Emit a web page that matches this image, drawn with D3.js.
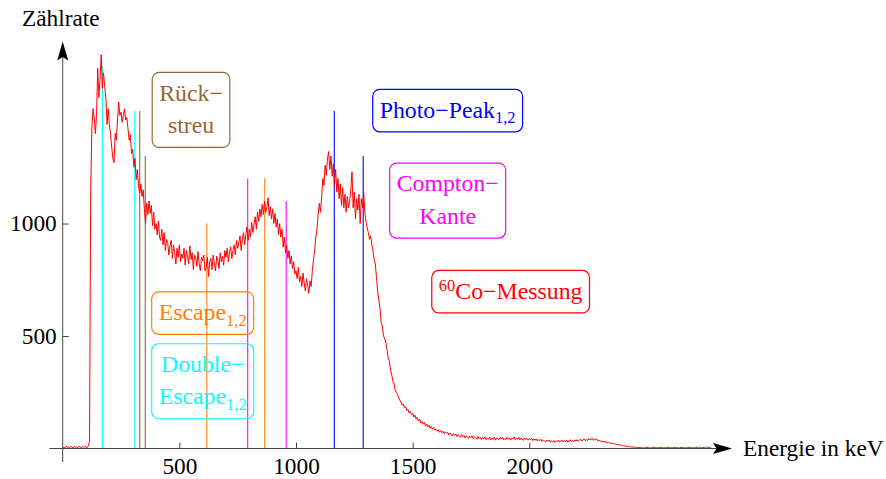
<!DOCTYPE html>
<html>
<head>
<meta charset="utf-8">
<script src="https://cdn.jsdelivr.net/npm/d3@7"></script>
<style>
  body { margin: 0; background: #fff; }
  svg { display: block; font-family: "Liberation Serif", "Times New Roman", serif; }
</style>
</head>
<body>
<svg id="chart" width="886" height="479"></svg>
<script>
// 60Co gamma spectrum, counts per 5 keV channel starting at 0 keV
const channelWidth = 5;
const counts = [
  // 0 - 95 keV
  8, 3, 6, 10, 5, 7, 4, 9, 6, 3,
  8, 5, 7, 4, 10, 6, 3, 8, 5, 9,
  // 100 - 195 keV
  6, 4, 12, 30, 1150, 1420, 1510, 1470, 1400, 1480,
  1690, 1560, 1640, 1750, 1600, 1670, 1610, 1560, 1440, 1510,
  // 200 - 295 keV
  1440, 1400, 1340, 1290, 1270, 1400, 1370, 1460, 1540, 1480,
  1495, 1450, 1480, 1510, 1460, 1470, 1420, 1370, 1395, 1310,
  // 300 - 395 keV
  1330, 1250, 1290, 1195, 1240, 1165, 1135, 1175, 1120, 1150,
  1065, 1000, 1090, 1040, 1100, 1045, 1080, 990, 1050, 975,
  // 400 - 495 keV
  1000, 950, 1010, 940, 925, 975, 905, 960, 880, 930,
  915, 860, 900, 925, 845, 905, 870, 820, 890, 850,
  // 500 - 595 keV
  905, 830, 865, 845, 890, 815, 880, 855, 820, 900,
  840, 870, 795, 860, 850, 810, 875, 820, 790, 850,
  // 600 - 695 keV
  835, 860, 790, 805, 850, 765, 830, 845, 795, 860,
  820, 790, 855, 835, 800, 870, 830, 855, 815, 880,
  // 700 - 795 keV
  850, 890, 830, 870, 895, 845, 880, 905, 860, 925,
  890, 915, 945, 880, 930, 960, 905, 950, 985, 925,
  // 800 - 895 keV
  975, 940, 1005, 960, 995, 1030, 975, 1050, 1010, 1065,
  1030, 1085, 1040, 1100, 1050, 1070, 1115, 1035, 1075, 1020,
  // 900 - 995 keV
  1065, 1000, 1045, 985, 1020, 950, 1000, 940, 975, 895,
  940, 870, 905, 845, 880, 820, 855, 800, 830, 775,
  // 1000 - 1095 keV
  790, 755, 805, 740, 765, 720, 780, 735, 700, 755,
  725, 690, 745, 720, 790, 840, 880, 940, 975, 1040,
  // 1100 - 1195 keV
  1090, 1050, 1120, 1200, 1170, 1260, 1215, 1290, 1320, 1240,
  1300, 1210, 1265, 1170, 1240, 1140, 1200, 1110, 1175, 1080,
  // 1200 - 1295 keV
  1160, 1070, 1130, 1050, 1120, 1070, 1095, 1150, 1230, 1070,
  1140, 1020, 1110, 1060, 1130, 1000, 1110, 1070, 1140, 1050,
  // 1300 - 1395 keV
  1010, 980, 960, 930, 945, 905, 880, 840, 820, 760,
  700, 660, 620, 560, 545, 500, 490, 470, 440, 405,
  // 1400 - 1495 keV
  390, 350, 330, 300, 290, 260, 250, 240, 225, 215,
  205, 192, 198, 180, 186, 170, 174, 158, 166, 150,
  // 1500 - 1595 keV
  156, 140, 148, 131, 138, 122, 130, 113, 121, 108,
  116, 101, 109, 96, 103, 90, 98, 86, 93, 82,
  // 1600 - 1695 keV
  86, 78, 83, 72, 80, 70, 77, 66, 74, 68,
  72, 60, 69, 62, 56, 66, 58, 64, 53, 61,
  // 1700 - 1795 keV
  57, 50, 62, 52, 58, 47, 56, 50, 45, 55,
  49, 56, 44, 52, 47, 41, 53, 44, 50, 40,
  // 1800 - 1895 keV
  49, 43, 52, 39, 47, 42, 51, 38, 46, 41,
  50, 37, 48, 43, 39, 49, 42, 51, 38, 45,
  // 1900 - 1995 keV
  40, 50, 41, 47, 37, 46, 43, 52, 39, 45,
  41, 49, 38, 46, 42, 36, 47, 40, 45, 37,
  // 2000 - 2095 keV
  44, 39, 46, 35, 42, 37, 43, 33, 40, 35,
  41, 31, 38, 34, 29, 37, 32, 38, 28, 35,
  // 2100 - 2195 keV
  30, 36, 27, 34, 31, 37, 28, 33, 38, 29,
  35, 30, 37, 28, 34, 39, 31, 36, 30, 38,
  // 2200 - 2295 keV
  33, 39, 32, 37, 41, 33, 38, 43, 35, 40,
  36, 44, 37, 42, 45, 36, 43, 38, 41, 33,
  // 2300 - 2395 keV
  37, 31, 35, 28, 33, 27, 31, 24, 28, 22,
  25, 21, 23, 19, 20, 17, 18, 15, 16, 13,
  // 2400 - 2495 keV
  14, 11, 12, 9, 10, 8, 9, 6, 8, 5,
  7, 4, 6, 3, 5, 4, 6, 3, 5, 2,
  // 2500 - 2780 keV
  4, 6, 3, 5, 2, 4, 6, 3, 5, 4,
  2, 5, 3, 6, 4, 3, 5, 2, 4, 6,
  3, 5, 4, 2, 6, 3, 4, 5, 3, 2,
  5, 4, 6, 3, 4, 2, 5, 3, 6, 4,
  3, 5, 2, 4, 6, 3, 5, 4, 2, 5,
  3, 4, 6, 3, 5, 2, 4
];

// Marker lines: energy (keV), height (counts) and which effect they belong to
const markerEnergy = [170, 309, 330, 354, 618, 793, 866, 958, 1164, 1288];
const markerHeight = [1700, 1500, 1500, 1300, 1000, 1200, 1200, 1100, 1500, 1300];
const markerKind   = ["dbl", "dbl", "back", "back", "esc", "comp", "esc", "comp", "photo", "photo"];

// Label boxes: kind, text lines (segments: [text, "", "sub" or "sup"]), anchor in data coordinates
const labelKind   = ["back", "photo", "comp", "co", "esc", "dbl"];
const labelLines  = [
  [[["Rück−", ""]], [["streu", ""]]],
  [[["Photo−Peak", ""], ["1,2", "sub"]]],
  [[["Compton−", ""]], [["Kante", ""]]],
  [[["60", "sup"], ["Co−Messung", ""]]],
  [[["Escape", ""], ["1,2", "sub"]]],
  [[["Double−", ""]], [["Escape", ""], ["1,2", "sub"]]]
];
const labelEnergy = [550, 1650, 1650, 1920, 600, 600];
const labelCount  = [1505, 1502, 1102, 697, 602, 299];

// Axis ticks
const xMajor = [500, 1000, 1500, 2000];
const xMinor = d3.range(100, 2900, 100).filter(v => !xMajor.includes(v));
const yMajor = [500, 1000];
const yMinor = d3.range(100, 1800, 100).filter(v => !yMajor.includes(v));

const colors = {
  dbl: "#00ffff", back: "#996633", esc: "#ff8000",
  comp: "#ff00ff", photo: "#0000ff", co: "#ff0000"
};

const svg = d3.select("#chart");
const serif = "Liberation Serif, Times New Roman, serif";
const fontSize = 23.3;
const boxFont = 23.8;
const scriptFont = 16.5;

const x = d3.scaleLinear().domain([0, 2000]).range([62.7, 529.3]);
const y = d3.scaleLinear().domain([0, 1000]).range([448.5, 223.5]);

const axisColor = "#444";
const xStart = -57, xEnd = 2869;   // x axis extent (keV)
const yStart = -60, yEnd = 1809;   // y axis extent (counts)

// Marker lines
svg.append("g").selectAll("line")
  .data(markerEnergy)
  .join("line")
  .attr("x1", d => x(d)).attr("x2", d => x(d))
  .attr("y1", y(0)).attr("y2", (d, i) => y(markerHeight[i]))
  .attr("stroke", (d, i) => colors[markerKind[i]])
  .attr("stroke-width", 1.1);

// Spectrum
const line = d3.line()
  .x((d, i) => x(i * channelWidth))
  .y(d => y(d));
svg.append("path")
  .datum(counts)
  .attr("d", line)
  .attr("fill", "none")
  .attr("stroke", "#ff0000")
  .attr("stroke-width", 1)
  .attr("stroke-linejoin", "round");

// Axis lines
svg.append("line")
  .attr("x1", x(xStart)).attr("x2", x(xEnd) - 10)
  .attr("y1", y(0)).attr("y2", y(0))
  .attr("stroke", axisColor).attr("stroke-width", 1);
svg.append("line")
  .attr("x1", x(0)).attr("x2", x(0))
  .attr("y1", y(yStart)).attr("y2", y(yEnd) + 10)
  .attr("stroke", axisColor).attr("stroke-width", 1);

// Arrowheads
function arrow(tx, ty, dx, dy) {
  const L = 19, W = 5.5, N = 15.5;
  const px = -dy, py = dx;
  const bx = tx - dx * L, by = ty - dy * L;
  const nx = tx - dx * N, ny = ty - dy * N;
  return `M${tx},${ty}L${bx + px * W},${by + py * W}L${nx},${ny}L${bx - px * W},${by - py * W}Z`;
}
svg.append("path").attr("d", arrow(x(xEnd), y(0), 1, 0)).attr("fill", "#000");
svg.append("path").attr("d", arrow(x(0), y(yEnd), 0, -1)).attr("fill", "#000");

// X axis ticks
const gx = svg.append("g").attr("transform", `translate(0,${y(0)})`);
gx.call(d3.axisBottom(x).tickValues(xMinor).tickSize(-3.5).tickFormat(""));
gx.call(d3.axisBottom(x).tickValues(xMajor).tickSize(-6).tickPadding(9).tickFormat(d3.format("d")));
gx.selectAll(".domain").remove();
gx.selectAll(".tick line").attr("stroke", axisColor);
gx.selectAll("text")
  .attr("font-family", serif)
  .attr("font-size", fontSize).attr("fill", "#000");

// Y axis ticks
const gy = svg.append("g").attr("transform", `translate(${x(0)},0)`);
gy.call(d3.axisLeft(y).tickValues(yMinor).tickSize(-4).tickFormat(""));
gy.call(d3.axisLeft(y).tickValues(yMajor).tickSize(-6).tickPadding(6).tickFormat(d3.format("d")));
gy.selectAll(".domain").remove();
gy.selectAll(".tick line").attr("stroke", axisColor);
gy.selectAll("text")
  .attr("font-family", serif)
  .attr("font-size", fontSize).attr("fill", "#000");

// Axis titles
svg.append("text").attr("x", 22).attr("y", 26)
  .attr("font-family", serif).attr("font-size", fontSize).text("Zählrate");
svg.append("text").attr("x", 743).attr("y", 456)
  .attr("font-family", serif).attr("font-size", fontSize).text("Energie in keV");

// Label boxes
const lineGap = 32.5;
labelKind.forEach((kind, k) => {
  const col = colors[kind];
  const lines = labelLines[k];
  const n = lines.length;
  const g = svg.append("g")
    .attr("transform", `translate(${x(labelEnergy[k])},${y(labelCount[k])})`);
  const rect = g.append("rect");
  const text = g.append("text")
    .attr("text-anchor", "middle")
    .attr("font-family", serif)
    .attr("font-size", boxFont)
    .attr("fill", col);
  lines.forEach((segs, li) => {
    const base = -(n - 1) * lineGap / 2 + li * lineGap + 7;
    let shift = 0;
    segs.forEach((seg, si) => {
      const t = text.append("tspan").text(seg[0]);
      const target = seg[1] === "sub" ? 5.5 : seg[1] === "sup" ? -7.5 : 0;
      if (si === 0) {
        t.attr("x", 0).attr("y", base + target);
      } else {
        t.attr("dy", target - shift);
      }
      shift = target;
      if (seg[1]) t.attr("font-size", scriptFont);
    });
  });
  const w = text.node().getBBox().width;
  const h = n * lineGap + 10;
  rect.attr("x", -w / 2 - 7).attr("y", -h / 2)
    .attr("width", w + 14).attr("height", h)
    .attr("rx", 7).attr("ry", 7)
    .attr("fill", "none")
    .attr("stroke", col).attr("stroke-width", 1.2);
});
</script>
</body>
</html>
